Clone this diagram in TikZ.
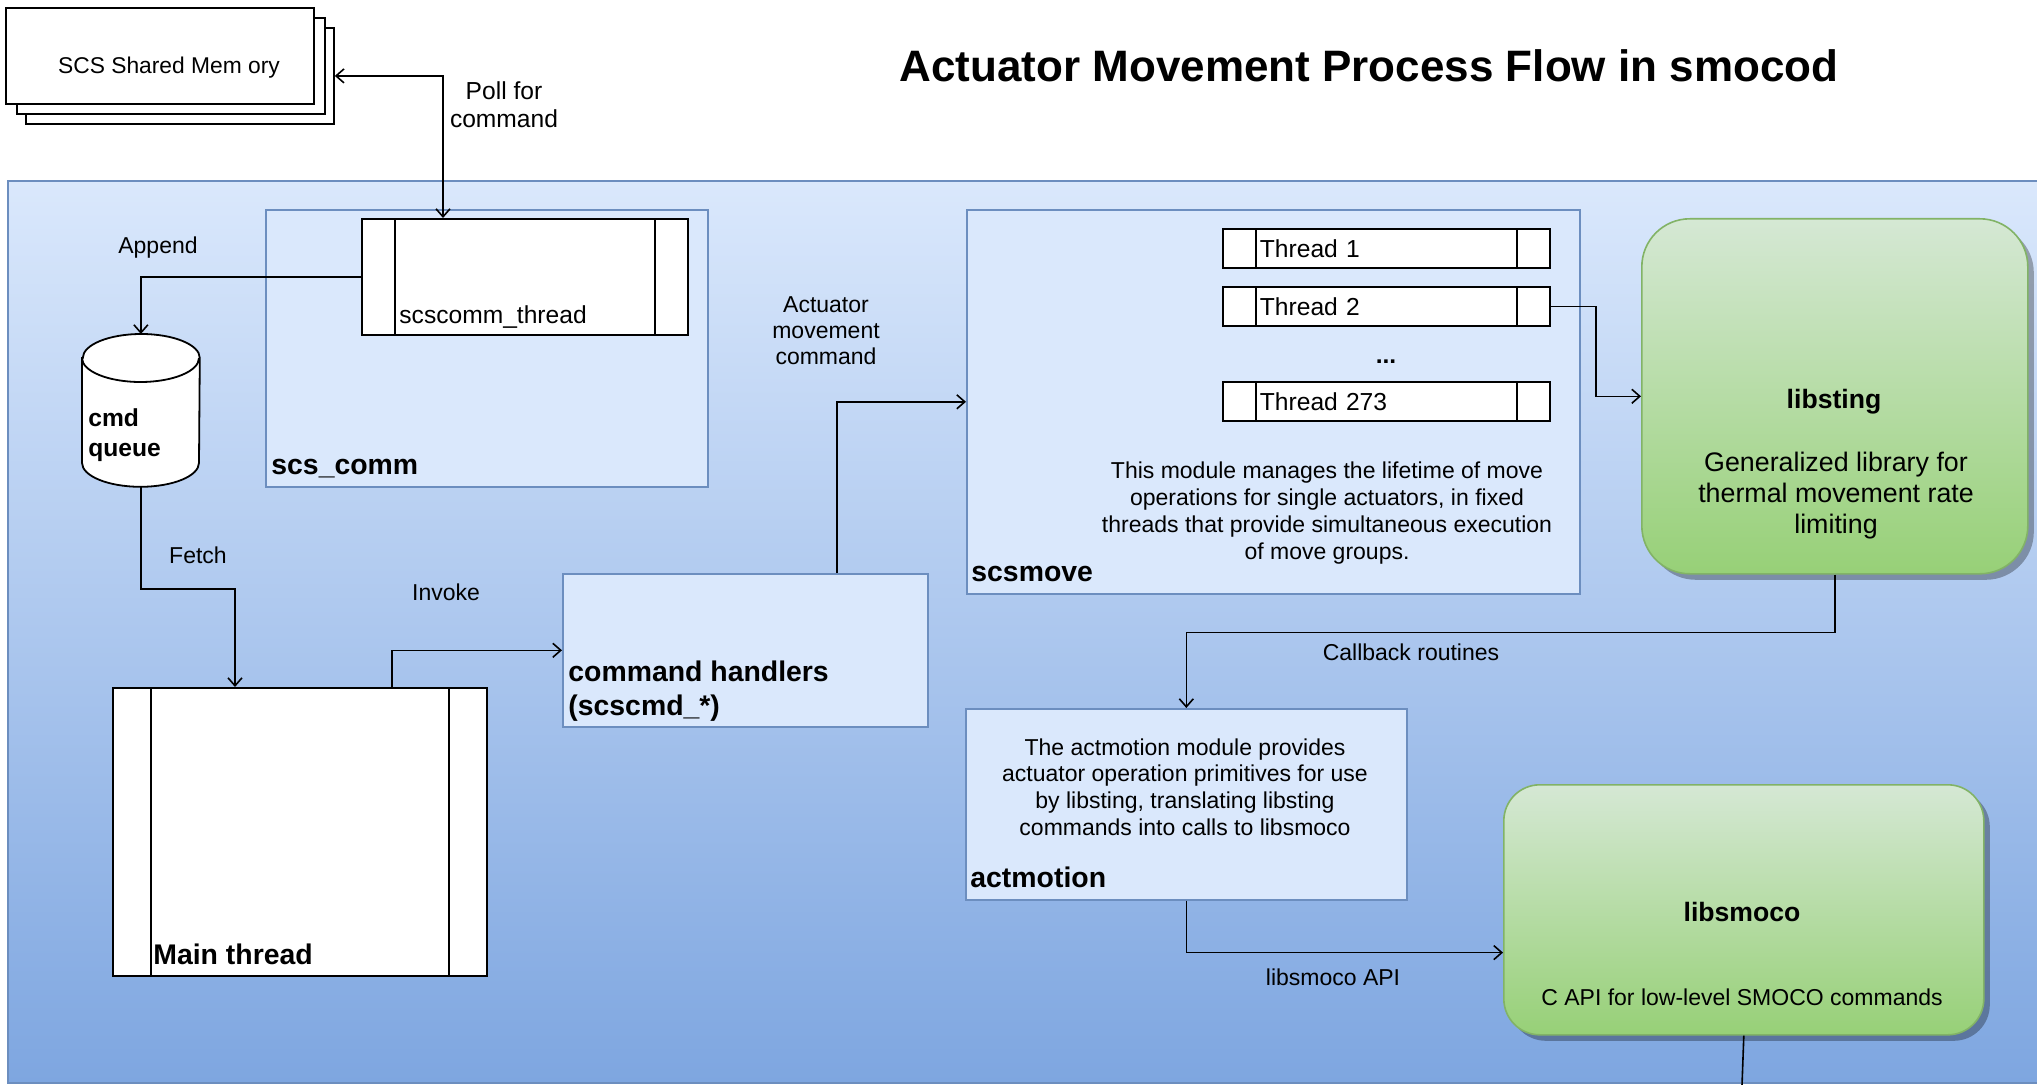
\documentclass[tikz,border=0pt]{standalone}
\usepackage{fontspec}
\setmainfont{Liberation Sans}
\usetikzlibrary{arrows.meta,shadows}
\definecolor{modfill}{HTML}{DAE8FC}
\definecolor{modstroke}{HTML}{6C8EBF}
\definecolor{bgbottom}{HTML}{7EA6E0}
\definecolor{libtop}{HTML}{D5E8D4}
\definecolor{libbottom}{HTML}{97D077}
\definecolor{libstroke}{HTML}{82B366}

\tikzset{
	modbox/.style={draw=modstroke, fill=modfill, line width=0.8pt, anchor=north west, inner sep=0pt},
	stackbox/.style={draw, fill=white, line width=0.9pt, anchor=north west, inner sep=0pt,
		minimum width=154pt, minimum height=48pt},
	procbox/.style={draw, fill=white, line width=0.9pt, anchor=north west, inner sep=0pt,
		path picture={
			\draw[line width=0.9pt] ([xshift=#1]path picture bounding box.north west) -- ([xshift=#1]path picture bounding box.south west);
			\draw[line width=0.9pt] ([xshift=-#1]path picture bounding box.north east) -- ([xshift=-#1]path picture bounding box.south east);}},
	procbox/.default=16.5pt,
	threadbox/.style={procbox, minimum width=163.5pt, minimum height=19.5pt, inner xsep=18.5pt,
		text width=126.5pt, align=left, font=\fontsize{12.3pt}{14pt}\selectfont},
	libbox/.style={draw=libstroke, line width=0.8pt, top color=libtop, bottom color=libbottom,
		anchor=north west, inner sep=0pt,
		drop shadow={shadow xshift=3pt, shadow yshift=-3pt, fill=black, opacity=0.3}},
	modlbl/.style={font=\bfseries\fontsize{14.2pt}{17pt}\selectfont, anchor=base west, inner sep=0pt, align=left},
	proclbl/.style={font=\fontsize{12.3pt}{14pt}\selectfont, anchor=base west, inner sep=0pt},
	desc/.style={font=\fontsize{11.5pt}{13.4pt}\selectfont, align=center, inner sep=0pt},
	libname/.style={font=\bfseries\fontsize{13.3pt}{16pt}\selectfont, inner sep=0pt},
	edgelbl/.style={font=\fontsize{11.5pt}{13pt}\selectfont, align=center, inner sep=0pt},
	flow/.style={draw, line width=0.8pt, -{Straight Barb[length=4pt,width=7pt]}},
	biflow/.style={draw, line width=0.8pt, {Straight Barb[length=4pt,width=7pt]}-{Straight Barb[length=4pt,width=7pt]}}
}

\begin{document}
\begin{tikzpicture}[x=0.5pt, y=-0.5pt]
	\useasboundingbox (0,0) rectangle (2037,1085);
	\clip (0,0) rectangle (2037,1085);
	% Container and title
	\node[draw=modstroke, line width=0.8pt, top color=modfill, bottom color=bgbottom, anchor=north west,
		inner sep=0pt, minimum width=1021.5pt, minimum height=451pt] (smocod) at (7,180) {};
	\node[font=\bfseries\fontsize{22pt}{26pt}\selectfont] (title) at (1369,66) {Actuator Movement Process Flow in smocod};
	% Shared memory
	\node[stackbox] (shm3) at (25,27) {};
	\node[stackbox] (shm2) at (16,17) {};
	\node[stackbox] (shm1) at (5,7) {};
	\node[font=\fontsize{11.4pt}{13pt}\selectfont] (shmtxt) at (169,68) {SCS Shared Mem ory};
	% scs_comm module
	\node[modbox, minimum width=221pt, minimum height=138.5pt] (scscomm) at (265,209) {};
	\node[modlbl] (scscommlbl) at ([shift={(3pt,6.5pt)}]scscomm.south west) {scs\_comm};
	\node[procbox, minimum width=163pt, minimum height=58pt] (scsthr) at (361,218) {};
	\node[proclbl] (scsthrlbl) at ([shift={(19pt,6pt)}]scsthr.south west) {scscomm\_thread};
	% Command queue
	\node[anchor=north west, inner sep=0pt, minimum width=58.5pt, minimum height=76pt] (queue) at (82,334) {};
	\draw[fill=white, line width=0.9pt] ([yshift=-12pt]queue.north west) -- ([yshift=12pt]queue.south west)
		arc[start angle=180, end angle=360, x radius=29.25pt, y radius=12pt]
		-- ([yshift=-12pt]queue.north east)
		arc[start angle=0, end angle=180, x radius=29.25pt, y radius=12pt] -- cycle;
	\draw[line width=0.9pt] ([yshift=-12pt]queue.north west) arc[start angle=180, end angle=360, x radius=29.25pt, y radius=12pt];
	\node[font=\bfseries\fontsize{12.3pt}{15pt}\selectfont, align=left, anchor=west, inner sep=0pt] (queuelbl)
		at ([shift={(3pt,-12.5pt)}]queue.west) {cmd\\queue};
	% Main thread and command handlers
	\node[procbox=19pt, minimum width=187pt, minimum height=144pt] (mainthr) at (112,687) {};
	\node[modlbl] (mainthrlbl) at ([shift={(20.5pt,6pt)}]mainthr.south west) {Main thread};
	\node[modbox, minimum width=182.5pt, minimum height=76.5pt] (cmdh) at (562,573) {};
	\node[modlbl, anchor=south west] (cmdhlbl) at ([shift={(3pt,3pt)}]cmdh.south west) {command handlers\\(scscmd\_*)};
	% scsmove module
	\node[modbox, minimum width=306.5pt, minimum height=192pt] (scsmove) at (966,209) {};
	\node[modlbl] (scsmovelbl) at ([shift={(2.5pt,6.5pt)}]scsmove.south west) {scsmove};
	\node[threadbox] (thr1) at (1222,228) {Thread 1};
	\node[threadbox] (thr2) at (1222,286) {Thread 2};
	\node[font=\bfseries\fontsize{12.3pt}{14pt}\selectfont, anchor=base] (thrdots) at (1386,364) {...};
	\node[threadbox] (thr273) at (1222,381) {Thread 273};
	\node[desc] (movedesc) at (1327,513) {This module manages the lifetime of move\\operations for single actuators, in fixed\\threads that provide simultaneous execution\\of move groups.};
	% actmotion module
	\node[modbox, minimum width=220.5pt, minimum height=95.5pt] (actm) at (965,708) {};
	\node[modlbl] (actmlbl) at ([shift={(2.5pt,6.5pt)}]actm.south west) {actmotion};
	\node[desc] (actmdesc) at (1185,787) {The actmotion module provides\\actuator operation primitives for use\\by libsting, translating libsting\\commands into calls to libsmoco};
	% Libraries
	\node[libbox, rounded corners=24pt, minimum width=193pt, minimum height=177.5pt] (libsting) at (1641,218) {};
	\node[libname] (libstingname) at (1834,402) {libsting};
	\node[desc, font=\fontsize{13.4pt}{15.5pt}\selectfont] (libstingdesc) at (1836,496) {Generalized library for\\thermal movement rate\\limiting};
	\node[libbox, rounded corners=18pt, minimum width=240pt, minimum height=125pt] (smoco) at (1503,784) {};
	\node[libname] (smoconame) at (1742,912) {libsmoco};
	\node[desc] (smocodesc) at (1742,997) {C API for low-level SMOCO commands};
	\coordinate (offpage) at (1742,1085);
	% Draw edges
	\path[biflow] (shm3.east) -| ([xshift=41pt]scsthr.north west);
	\path[flow] (scsthr.west) -| (queue.north);
	\path[flow] (queue.south) -- ++(0,102) -| ([xshift=61.5pt]mainthr.north west);
	\path[flow] ([xshift=140pt]mainthr.north west) |- (cmdh.west);
	\path[flow] ([xshift=137.5pt]cmdh.north west) |- (scsmove.west);
	\path[flow] (thr2.east) -- ++(45,0) |- (libsting.west);
	\path[flow] (libsting.south) -- ++(0,58) -| (actm.north);
	\path[flow] (actm.south) |- ([yshift=41.5pt]smoco.south west);
	\draw[line width=0.8pt] (smoco.south) -- (offpage);
	% Edge labels
	\node[edgelbl, font=\fontsize{12.3pt}{14pt}\selectfont] (polllbl) at (504,105) {Poll for\\command};
	\node[edgelbl] (appendlbl) at (158,248) {Append};
	\node[edgelbl] (fetchlbl) at (198,555) {Fetch};
	\node[edgelbl] (invokelbl) at (446,592) {Invoke};
	\node[edgelbl] (actcmdlbl) at (826,331) {Actuator\\movement\\command};
	\node[edgelbl] (callbacklbl) at (1411,652) {Callback routines};
	\node[edgelbl] (apilbl) at (1333,977) {libsmoco API};
\end{tikzpicture}
\end{document}
